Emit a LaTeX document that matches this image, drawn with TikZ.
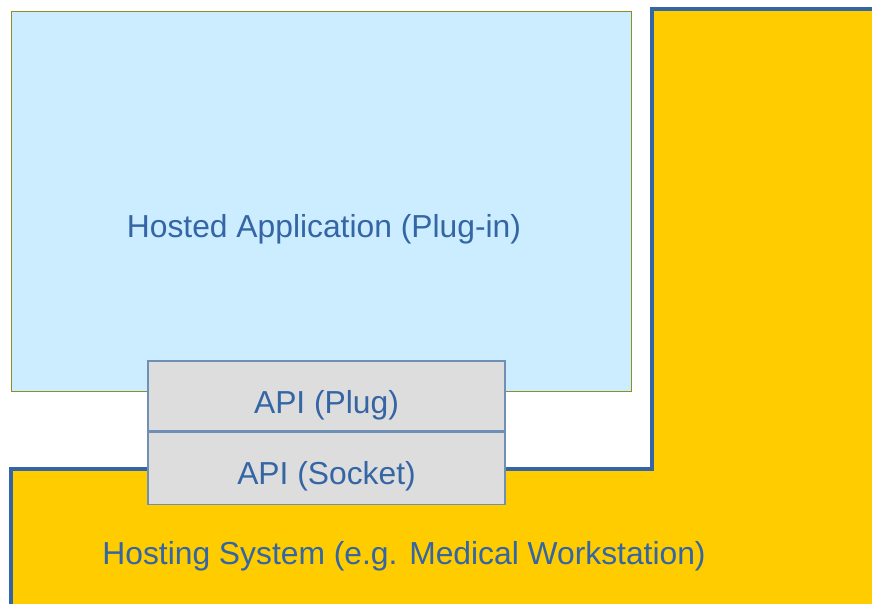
\documentclass[tikz,border=0pt]{standalone}
\usepackage{fontspec}
\setmainfont{Liberation Sans}
\usepackage{tikz}
\usetikzlibrary{calc,positioning}
\definecolor{hostblue}{HTML}{3465A4}
\definecolor{hostyellow}{HTML}{FFCC00}
\definecolor{appfill}{HTML}{CCECFF}
\definecolor{appedge}{HTML}{8F8F1F}
\definecolor{apifill}{HTML}{DDDDDD}
\definecolor{apiedge}{HTML}{6F8FB5}

\begin{document}
\begin{tikzpicture}[x=1pt, y=-1pt, node distance=0pt and 0pt]
\tikzset{appbox/.style={rectangle,draw=appedge,fill=appfill,line width=0.9pt,inner sep=0},
apibox/.style={rectangle,draw=apiedge,fill=apifill,line width=1.3pt,inner sep=0,minimum width=357pt},
boxlabel/.style={font=\fontsize{31.8}{38}\selectfont,text=hostblue,inner sep=0}}

\useasboundingbox (0,0) rectangle (872,604);

%% Hosting system (yellow L)
\fill[hostyellow] (11,469) -- (652,469) -- (652,9) -- (872,9) -- (872,604) -- (11,604) -- cycle;
\draw[hostblue,line width=3.2pt] (11,604) -- (11,469) -- (652,469) -- (652,9) -- (872,9);
\node (hosting) [boxlabel] at (404,556) {Hosting System (e.g. Medical Workstation)};

%% Hosted application
\node (hosted) [appbox,minimum width=620pt,minimum height=380pt] at (321,201) {};
\node (hostedlabel) [boxlabel] at (324,229) {Hosted Application (Plug-in)};

%% API
\node (plug) [apibox,minimum height=70pt] at (326.5,396) {};
\node (socket) [apibox,minimum height=72pt,below=of plug] {};
\node [boxlabel] at ($(plug)+(0,9)$) {API (Plug)};
\node [boxlabel] at ($(socket)+(0,8)$) {API (Socket)};

\end{tikzpicture}
\end{document}
